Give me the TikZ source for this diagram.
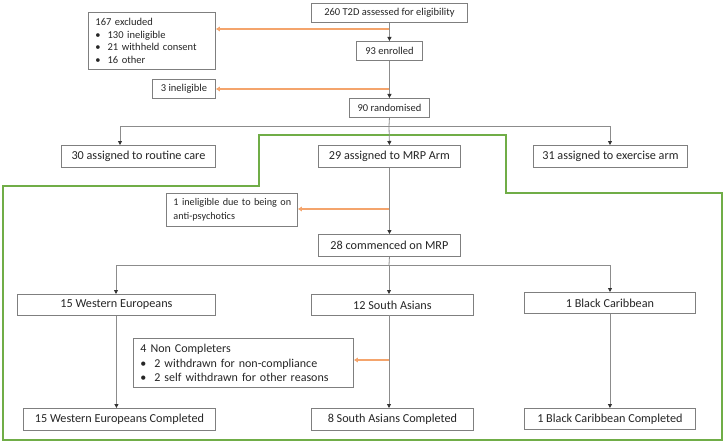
\documentclass[tikz,border=0pt]{standalone}
\usepackage{fontspec}
\setmainfont{Carlito}
\usetikzlibrary{arrows.meta}
\definecolor{boxgray}{HTML}{7F7F7F}
\definecolor{linegray}{HTML}{8C8C8C}
\definecolor{orng}{HTML}{F4A46C}
\definecolor{grn}{HTML}{70AD47}
\begin{document}
\begin{tikzpicture}[x=1pt,y=-1pt,
  box/.style={draw=boxgray, line width=0.9pt, fill=white, inner sep=0pt, anchor=north west, align=center, text=black!85},
  lbox/.style={box, align=left, inner xsep=7pt},
  fs/.style={font=\fontsize{10.5}{12}\selectfont},
  fl/.style={font=\fontsize{12.2}{14}\selectfont},
  conn/.style={draw=linegray, line width=0.8pt},
  arr/.style={conn, -{Triangle[width=4pt,length=4pt,color=black!80]}},
  oarr/.style={draw=orng, line width=1.2pt, -{Triangle[width=4.5pt,length=4pt]}},
  gline/.style={draw=grn, line width=1.8pt}]
\useasboundingbox (0,0) rectangle (726,444);
% green frame
\draw[gline] (3,186) -- (259,186) -- (259,135) -- (506,135) -- (506,193) -- (722,193) -- (722,440) -- (3,440) -- cycle;
% boxes
\node[box, fs, minimum width=156pt, minimum height=19pt] (a) at (311,3) {260 T2D assessed for eligibility};
\node[lbox, font=\fontsize{10.5}{12.6}\selectfont, minimum width=127pt, text width=113pt, minimum height=57pt] (ex) at (88,12)
  {167 excluded\\\textbullet\hspace{7pt}130 ineligible\\\textbullet\hspace{7pt}21 withheld consent\\\textbullet\hspace{7pt}16 other};
\node[box, fs, minimum width=66pt, minimum height=19pt] (en) at (356,41) {93 enrolled};
\node[box, fs, minimum width=63pt, minimum height=19pt] (in3) at (152,79) {3 ineligible};
\node[box, fs, minimum width=80pt, minimum height=19pt] (ra) at (349,98) {90 randomised};
\node[box, fl, minimum width=154pt, minimum height=22pt] (rc) at (61,145) {30 assigned to routine care};
\node[box, fl, minimum width=142pt, minimum height=22pt] (mrp) at (318,145) {29 assigned to MRP Arm};
\node[box, fl, minimum width=154pt, minimum height=22pt] (exa) at (533,145) {31 assigned to exercise arm};
\node[lbox, font=\fontsize{10.2}{14}\selectfont, inner xsep=2pt, minimum width=131pt, text width=127pt, minimum height=33pt] (ap) at (166,193)
  {\hspace*{5pt}1 ineligible due to being on\\\hspace*{5pt}anti-psychotics};
\node[box, fl, minimum width=142pt, minimum height=22pt] (cm) at (318,234) {28 commenced on MRP};
\node[box, fl, minimum width=198pt, minimum height=21pt] (we) at (17,294) {15 Western Europeans};
\node[box, fl, minimum width=162pt, minimum height=21pt] (sa) at (311,294) {12 South Asians};
\node[box, fl, minimum width=171pt, minimum height=21pt] (bc) at (524,292) {1 Black Caribbean};
\node[lbox, font=\fontsize{12}{14.5}\selectfont, minimum width=220pt, text width=206pt, minimum height=49pt] (nc) at (133,338)
  {4 Non Completers\\\textbullet\hspace{8pt}2 withdrawn for non-compliance\\\textbullet\hspace{8pt}2 self withdrawn for other reasons};
\node[box, fl, minimum width=192pt, minimum height=22pt] (wec) at (23,408) {15 Western Europeans Completed};
\node[box, fl, minimum width=162pt, minimum height=22pt] (sac) at (311,408) {8 South Asians Completed};
\node[box, fl, minimum width=171pt, minimum height=21pt] (bcc) at (524,408) {1 Black Caribbean Completed};
% coordinates
\coordinate (o1) at (389,29);
\coordinate (o2) at (389,89);
\coordinate (o3) at (389,209);
\coordinate (o4) at (389,360);
\coordinate (b1) at (389,126);
\coordinate (b1l) at (120,126);
\coordinate (b1r) at (610,126);
\coordinate (b2) at (389,265);
\coordinate (b2l) at (116,265);
\coordinate (b2r) at (610,265);
\coordinate (s1) at (389,315);
% main connectors
\draw[arr] (a.south) -- (en.north);
\draw[arr] (en.south) -- (ra.north);
\draw[conn] (ra.south) -- (b1);
\draw[conn] (b1l) -- (b1r);
\draw[arr] (b1l) -- (b1l |- rc.north);
\draw[arr] (b1) -- (mrp.north);
\draw[arr] (b1r) -- (b1r |- exa.north);
\draw[arr] (mrp.south) -- (cm.north);
\draw[conn] (cm.south) -- (b2);
\draw[conn] (b2l) -- (b2r);
\draw[arr] (b2l) -- (b2l |- we.north);
\draw[arr] (b2) -- (b2 |- sa.north);
\draw[arr] (b2r) -- (b2r |- bc.north);
\draw[arr] (we.south) -- (we.south |- wec.north);
\draw[arr] (s1) -- (s1 |- sac.north);
\draw[arr] (bc.south) -- (bcc.north);
% orange exclusions
\draw[oarr] (o1) -- (o1 -| ex.east);
\draw[oarr] (o2) -- (o2 -| in3.east);
\draw[oarr] (o3) -- (o3 -| ap.east);
\draw[oarr] (o4) -- (o4 -| nc.east);
\end{tikzpicture}
\end{document}
